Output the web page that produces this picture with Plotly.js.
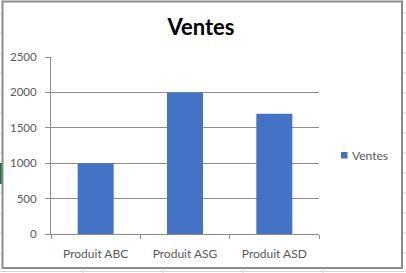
<!DOCTYPE html>
<html>
<head>
<meta charset="utf-8">
<script src="https://cdn.plot.ly/plotly-3.0.1.min.js"></script>
<style>html,body{margin:0;padding:0;background:#fff;}#chart{width:406px;height:273px;}</style>
</head>
<body>
<div id="chart"></div>
<script>
var categories = ["Produit ABC", "Produit ASG", "Produit ASD"];
var ventes = [1000, 2000, 1700];
var seriesName = "Ventes";
var chartTitle = "Ventes";

var W = 406, H = 273;
var L = 51, R = 319, T = 57, B = 234;
var barColor = '#4472C4';
function px(x) { return (x - L) / (R - L); }
function py(y) { return (B - y) / (B - T); }

var shapes = [];
var sheet = '#d4d4d4';
// spreadsheet grid around the chart object
for (var y = 13; y <= 253; y += 20) {
  shapes.push({type:'line', xref:'paper', yref:'paper', x0:px(403), x1:px(406), y0:py(y), y1:py(y), line:{color:sheet, width:1}});
  shapes.push({type:'line', xref:'paper', yref:'paper', x0:px(0), x1:px(2), y0:py(y), y1:py(y), line:{color:sheet, width:1}});
}
shapes.push({type:'line', xref:'paper', yref:'paper', x0:px(0), x1:px(406), y0:py(271.5), y1:py(271.5), line:{color:sheet, width:1}});
[83, 163, 243, 323].forEach(function (x) {
  shapes.push({type:'line', xref:'paper', yref:'paper', x0:px(x), x1:px(x), y0:py(269), y1:py(273), line:{color:sheet, width:1}});
});
shapes.push({type:'line', xref:'paper', yref:'paper', x0:px(1), x1:px(1), y0:py(163), y1:py(184), line:{color:'#217346', width:2}});
// chart frame
shapes.push({type:'rect', xref:'paper', yref:'paper', x0:px(2.5), x1:px(402), y0:py(268), y1:py(1.5), line:{color:'#8c8c8c', width:2}, fillcolor:'rgba(0,0,0,0)'});
// legend key
shapes.push({type:'rect', xref:'paper', yref:'paper', x0:px(341), x1:px(347.5), y0:py(158.5), y1:py(152), line:{width:0}, fillcolor:barColor});

var traces = [
  {type:'bar', x:categories, y:ventes, name:seriesName, marker:{color:barColor}, showlegend:false, hoverinfo:'none'}
];

var layout = {
  width: W, height: H,
  margin: {l: L, r: W - R, t: T, b: H - B, pad: 0, autoexpand: false},
  paper_bgcolor: '#ffffff', plot_bgcolor: '#ffffff',
  font: {family: 'Lato, "Open Sans", sans-serif', size: 11, color: '#595959'},
  title: {text: '<b>' + chartTitle + '</b>', font: {family: 'Lato, sans-serif', size: 22, color: '#000000'},
          xref: 'container', x: 0.495, xanchor: 'center', yref: 'container', y: 1 - 27/273, yanchor: 'middle'},
  bargap: 0.597,
  showlegend: false,
  annotations: [{text: seriesName, xref: 'paper', yref: 'paper', x: px(350), y: py(155.5), xanchor: 'left', yanchor: 'middle',
                 showarrow: false, font: {size: 12, color: '#595959'}}],
  xaxis: {type: 'category', showline: true, linecolor: '#8c8c8c', linewidth: 1, ticks: 'outside', tickson: 'boundaries',
          ticklen: 4, tickcolor: '#8c8c8c', showgrid: false, zeroline: false, ticklabelstandoff: 9,
          tickfont: {size: 12, color: '#595959'}, fixedrange: true},
  yaxis: {range: [0, 2500], dtick: 500, tick0: 0, showline: true, linecolor: '#8c8c8c', linewidth: 1, ticks: 'outside',
          ticklen: 5, tickcolor: '#8c8c8c', showgrid: true, gridcolor: '#8c8c8c', gridwidth: 1, zeroline: false,
          ticklabelstandoff: 6, tickfont: {size: 11.5, color: '#595959'}, fixedrange: true},
  shapes: shapes
};

Plotly.newPlot('chart', traces, layout, {staticPlot: true, displayModeBar: false});
</script>
</body>
</html>
